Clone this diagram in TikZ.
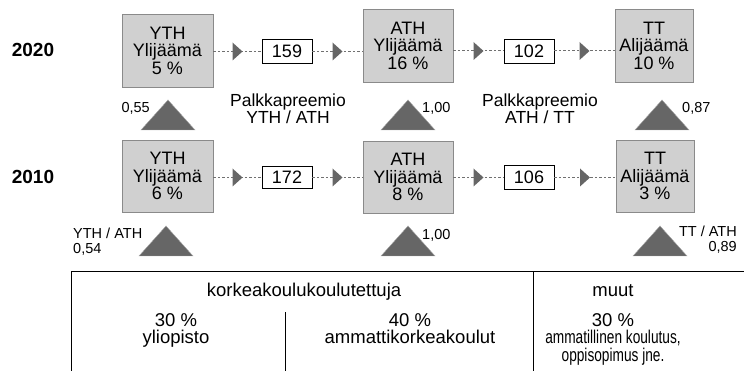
\documentclass[tikz,border=0pt]{standalone}
\usepackage{fontspec}
\setmainfont{Liberation Sans}
\newfontfamily\condfont[FakeStretch=0.74]{Liberation Sans}
\usetikzlibrary{calc}
\definecolor{boxgray}{HTML}{D0D0D0}
\definecolor{boxedge}{HTML}{8A8A8A}
\definecolor{triagray}{HTML}{666666}
\definecolor{dotgray}{HTML}{707070}
\tikzset{
  bigbox/.style={draw=boxedge, fill=boxgray, line width=0.8pt, align=center,
    font=\fontsize{18}{17.5}\selectfont, inner sep=0pt, minimum height=73pt},
  numbox/.style={draw=black, fill=white, line width=0.8pt, minimum width=50pt,
    minimum height=24pt, font=\fontsize{18}{18}\selectfont, inner sep=0pt},
  yearlbl/.style={font=\fontsize{19}{19}\selectfont\bfseries, inner sep=0pt},
  smalllbl/.style={font=\fontsize{14.5}{15}\selectfont, inner sep=0pt},
  premlbl/.style={font=\fontsize{17.5}{16}\selectfont, align=center, inner sep=0pt},
  tabtext/.style={font=\fontsize{18.5}{17}\selectfont, align=center, inner sep=0pt},
  tabcond/.style={font=\condfont\fontsize{18.5}{17}\selectfont, align=center, inner sep=0pt},
  dotline/.style={draw=dotgray, line width=1pt, dash pattern=on 2.5pt off 2pt},
  tabline/.style={draw=black, line width=1pt},
  bigtri/.pic={\fill[triagray, draw=lightgray!70!triagray, line width=0.4pt] (0,0) -- (27,30) -- (-27,30) -- cycle;},
  arrtri/.pic={\fill[triagray] (-5,-9) -- (5,0) -- (-5,9) -- cycle;}
}
\begin{document}
\begin{tikzpicture}[x=1pt,y=-1pt]
\useasboundingbox (0,0) rectangle (744,371);

% year labels
\node[yearlbl] (y20) at (33,50) {2020};
\node[yearlbl] (y10) at (33,177) {2010};

% 2020 row
\node[bigbox, minimum width=91pt] (yth20) at (167.5,50.5) {YTH\\Ylijäämä\\5 \%};
\node[bigbox, minimum width=90pt] (ath20) at (408,45.5) {ATH\\Ylijäämä\\16 \%};
\node[bigbox, minimum width=78pt] (tt20) at (654,45.5) {TT\\Alijäämä\\10 \%};
\node[numbox] (n159) at (287,51.5) {159};
\node[numbox] (n102) at (529,51) {102};

% 2010 row
\node[bigbox, minimum width=91pt, minimum height=72pt] (yth10) at (167.5,176) {YTH\\Ylijäämä\\6 \%};
\node[bigbox, minimum width=90pt, minimum height=72pt] (ath10) at (408,177) {ATH\\Ylijäämä\\8 \%};
\node[bigbox, minimum width=78pt, minimum height=72pt] (tt10) at (655,176) {TT\\Alijäämä\\3 \%};
\node[numbox, minimum height=22pt] (n172) at (287,177.5) {172};
\node[numbox] (n106) at (529,177.5) {106};

% connectors 2020
\draw[dotline] (yth20.east |- n159) -- coordinate[pos=0.5] (m1) (n159.west);
\draw[dotline] (n159.east) -- coordinate[pos=0.5] (m2) (n159.east -| ath20.west);
\draw[dotline] (ath20.east |- n102) -- coordinate[pos=0.5] (m3) (n102.west);
\draw[dotline] (n102.east) -- coordinate[pos=0.5] (m4) (n102.east -| tt20.west);
% connectors 2010
\draw[dotline] (yth10.east |- n172) -- coordinate[pos=0.5] (m5) (n172.west);
\draw[dotline] (n172.east) -- coordinate[pos=0.5] (m6) (n172.east -| ath10.west);
\draw[dotline] (ath10.east |- n106) -- coordinate[pos=0.5] (m7) (n106.west);
\draw[dotline] (n106.east) -- coordinate[pos=0.5] (m8) (n106.east -| tt10.west);
\foreach \m in {m1,m2,m3,m4,m5,m6,m7,m8} { \pic at (\m) {arrtri}; }

% big triangles 2020
\pic at (168,100) {bigtri};
\pic at (408,100) {bigtri};
\pic at (662,100) {bigtri};
% big triangles 2010
\pic at (166,226) {bigtri};
\pic at (408,226) {bigtri};
\pic at (660,226) {bigtri};

% small labels
\node[smalllbl, anchor=base east] (l055) at (150,113) {0,55};
\node[smalllbl, anchor=base west] (l100a) at (422,113) {1,00};
\node[smalllbl, anchor=base west] (l087) at (682,113) {0,87};
\node[smalllbl, anchor=base west] (l100b) at (422,240) {1,00};
\node[smalllbl, align=left, anchor=west] (l054) at (73,242) {YTH / ATH\\0,54};
\node[smalllbl, align=right, anchor=east] (l089) at (737,239.5) {TT / ATH\\0,89};

\node[premlbl] (p1) at (288,109) {Palkkapreemio\\YTH / ATH};
\node[premlbl] (p2) at (540,109) {Palkkapreemio\\ATH / TT};

% table
\draw[tabline] (71,371) -- (71,272) -- (744,272);
\draw[tabline] (533,272) -- (533,371);
\draw[tabline] (285,312) -- (285,371);
\node[tabtext, anchor=base] (h1) at (304,296) {korkeakoulukoulutettuja};
\node[tabtext, anchor=base] (h2) at (613,296) {muut};
\node[tabtext, anchor=base] (c1a) at (176,326) {30 \%};
\node[tabtext, anchor=base] (c1b) at (176,343) {yliopisto};
\node[tabtext, anchor=base] (c2a) at (410,326) {40 \%};
\node[tabtext, anchor=base] (c2b) at (410,343) {ammattikorkeakoulut};
\node[tabtext, anchor=base] (c3a) at (613,326) {30 \%};
\node[tabcond, anchor=base] (c3b) at (613,343) {ammatillinen koulutus,};
\node[tabcond, anchor=base] (c3c) at (613,361) {oppisopimus jne.};
\end{tikzpicture}
\end{document}
